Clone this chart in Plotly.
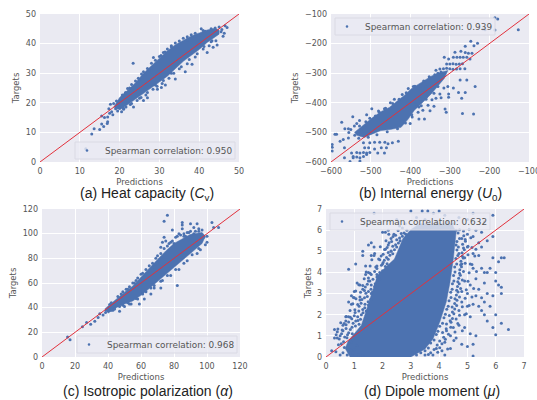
import plotly.graph_objects as go

BLUE = "#4C72B0"
RED = "#E2313C"
TICK = "#555555"

# ---------- (a) Heat capacity
a_band = [(18.5,18.5),(20,21.8),(22,24.2),(24,26.8),(26,30),(28,32.6),(30,35),(32,37.6),(34,39.6),(36,41.2),(38,42.6),(40,43.6),(42,44.6),(44,45.2),(45,44.6),(45,43.2),(44,42.3),(42,40.4),(40,38),(38,36),(36,34),(34,31.5),(32,29),(30,27),(28,25),(26,23),(24,21),(22,19.3),(20,17.6)]
a_points = [(11.5,4.5),(13,9.5),(13.6,11.2),(15,11),(15.5,12.8),(16,12),(16.9,13),(17,13.6),(15.5,15.5),(16.2,15),(17,15.2),(17.5,16.5),(18,17),(18.3,16),(17.3,18),(17.7,19.5),(18.5,19.8),(19,18),(19.5,17.2),(20,20.6),(20.5,17),(21,17.8),(21.5,23.5),(22.5,25),(23.4,33.4),(23.5,18.6),(25,27.9),(26,20.8),(26.5,29.7),(27,21.7),(27.5,30.8),(28,31.7),(28.5,35.3),(29.5,24.6),(30.5,25.2),(31,37),(31.5,26),(33,39.3),(34,28),(36.5,30.5),(37,41.3),(38.2,33),(39,42.5),(40,42.8),(40.5,45),(41.5,44.2),(42,37),(43,45),(43.5,38.8),(44,45.3),(44.2,41),(44.5,39.5),(45,45.6),(45.5,44),(46,42.5),(46.3,43.5),(46.5,46),(47,45.4),(45.7,44.8),(43.2,41),(42.5,39.3),(41,38.2),(39,35.5),(37,33.2),(35,31.5),(33,30),(31,27.5),(29,26),(27,23.5),(25,21.5),(23,19.8),(21,18.2),(22,24.8),(24,27.4),(26,30.5),(28,33.4),(30,35.6),(32,38.2),(34,40.2),(36,41.8),(38,43),(41,44.4),(19.2,20.6),(20.7,22.6),(21.4,23.1),(23,26.2),(24.7,28.3),(25.5,29.7),(27,31.6),(29,34.4),(30.4,36),(31.4,37.2),(33,38.9),(35,40.9),(37,42.3),(39,43.5),(21.6,18.6),(22.7,19.4),(24.4,20.8),(25.4,21.8),(26.6,22.6),(28.4,24.6),(29.4,25.6),(30.7,26.5),(32.4,28.3),(33.6,30),(35.5,32.2),(37.5,34.6),(39.5,36.6),(41.2,39),(43,40.6)]
a_name = "Spearman correlation: 0.950"

# ---------- (b) Internal energy
b_band = [(-541,-500),(-516,-472),(-495,-450),(-474,-430),(-452,-415),(-432,-393),(-415,-375),(-398,-353),(-372,-332),(-347,-310),(-325,-298),(-305,-291),(-314,-318),(-330,-345),(-347,-370),(-368,-398),(-390,-426),(-405,-455),(-423,-483),(-450,-490),(-474,-494),(-495,-505),(-516,-517),(-535,-510)]
b_points = [(-186,-113),(-179,-117),(-127,-153),(-186,-154),(-211,-153),(-216,-151),(-247,-192),(-230,-199),(-239,-207),(-261,-209),(-253,-233),(-244,-233),(-272,-226),(-287,-229),(-261,-230),(-314,-246),(-291,-246),(-282,-246),(-274,-246),(-266,-246),(-257,-246),(-249,-252),(-303,-252),(-308,-269),(-300,-269),(-292,-268),(-284,-270),(-276,-269),(-268,-268),(-325,-286),(-316,-285),(-308,-283),(-300,-285),(-292,-287),(-283,-286),(-274,-285),(-262,-285),(-330,-300),(-322,-296),(-335,-290),(-278,-365),(-261,-365),(-270,-385),(-236,-345),(-274,-323),(-257,-323),(-291,-350),(-303,-381),(-303,-370),(-312,-421),(-309,-432),(-268,-436),(-240,-438),(-364,-455),(-350,-427),(-375,-342),(-360,-345),(-345,-348),(-330,-345),(-315,-350),(-305,-345),(-370,-365),(-355,-370),(-340,-368),(-325,-370),(-375,-387),(-360,-388),(-345,-390),(-335,-385),(-322,-383),(-385,-405),(-372,-410),(-355,-408),(-340,-412),(-380,-432),(-368,-425),(-395,-448),(-400,-470),(-420,-462),(-378,-455),(-450,-400),(-440,-388),(-420,-372),(-405,-352),(-388,-344),(-465,-420),(-480,-428),(-497,-420),(-510,-440),(-528,-460),(-545,-447),(-541,-478),(-525,-490),(-515,-483),(-550,-490),(-535,-470),(-555,-500),(-520,-505),(-505,-500),(-597,-541),(-597,-550),(-597,-563),(-590,-506),(-586,-506),(-573,-466),(-565,-488),(-556,-488),(-569,-524),(-556,-519),(-566,-552),(-577,-530),(-566,-586),(-552,-598),(-548,-570),(-544,-581),(-535,-568),(-527,-570),(-518,-568),(-510,-570),(-502,-568),(-544,-586),(-535,-583),(-527,-586),(-518,-581),(-510,-575),(-527,-597),(-518,-535),(-502,-535),(-490,-533),(-477,-533),(-464,-533),(-456,-538),(-473,-552),(-460,-552),(-490,-556),(-482,-570),(-465,-570),(-445,-535),(-430,-530),(-505,-552),(-515,-552),(-540,-510),(-530,-520),(-528,-478),(-512,-464),(-502,-452),(-488,-445),(-478,-432),(-462,-418),(-444,-402),(-428,-388),(-410,-366),(-392,-345),(-366,-326),(-352,-312),(-338,-305),(-360,-382),(-378,-414),(-396,-440),(-412,-468),(-432,-488),(-458,-498),(-484,-508),(-506,-516)]
b_name = "Spearman correlation: 0.939"

# ---------- (c) Isotropic polarization
c_band = [(38,39),(45,47),(50,52.5),(55,57.5),(60,65),(65,72),(70,79),(75,86),(80,92),(85,96),(90,99.5),(97,101),(99,98),(97,92),(90,84),(85,78),(80,72),(75,66.5),(70,61),(65,55.5),(60,50),(55,45.5),(50,43),(45,40),(40,35.5)]
c_points = [(15.5,16.3),(17,14),(24.5,24.5),(27,28),(29.5,26.5),(32,29),(34,32),(35,35),(37,34),(38.5,36),(39,38),(41,42.5),(43,38),(47,37),(48,51),(50,41),(51,55),(52,45),(54,43),(55,60),(58,64),(59,43),(62,47),(63,67),(66,51),(68,56),(68,73),(70,76),(72,89),(72,56),(73,93),(74,97),(75,94),(76,115),(74,110),(78,93),(79,103),(80,92),(82,58),(82,98),(85,104),(85,109),(85,107),(86,100),(88,101),(90,108),(92,100),(92,90),(92,105),(94,108),(95,104),(97,99),(98,97),(100,93),(100,98),(103,109),(104,105),(107,105),(99,91),(96,87),(94,84),(88,78),(83,71),(78,66),(73,62),(68,58),(63,53),(58,47),(53,43),(77,92),(81,97),(84,99),(83,100),(87,98),(90,102),(95,102),(97,103),(70,82),(65,74),(60,67),(56,60),(52,55),(42,44),(46,49),(49,53),(53,57),(57,62),(61,68),(63,71),(67,76),(69,80),(72,84),(74,88),(76,90),(79,94),(86,98),(89,101),(93,102),(42,38),(44,39),(47,41),(49,42),(52,44),(57,47.5),(61,51),(66,56),(72,61.5),(76,66),(81,71),(86,76),(91,83),(95,88)]
c_name = "Spearman correlation: 0.968"

# ---------- (d) Dipole moment
d_band = [(0.85,0),(0.68,0.4),(0.78,0.75),(1.05,1.2),(1.25,1.5),(1.45,2.3),(1.6,2.9),(1.82,3.85),(2.15,4.3),(2.42,4.63),(2.72,5.6),(2.98,6),(3.3,6.3),(4.45,6.3),(4.6,5.9),(4.5,4.63),(4.38,3.5),(4.25,2.6),(4.02,1.64),(3.78,0.85),(3.5,0.38),(3.0,0)]
d_points = [(0.3,1.3),(0.4,1.2),(0.3,0.9),(0.4,0.9),(0.5,1.0),(0.6,1.5),(0.7,1.7),(0.7,1.9),(0.8,1.9),(0.9,2.5),(0.9,2.9),(0.8,2.6),(1.0,2.8),(1.0,3.1),(1.1,3.5),(1.2,3.4),(1.2,2.7),(0.8,4.15),(1.05,4.4),(1.3,3.2),(1.3,5.0),(1.3,4.8),(1.4,4.3),(1.4,3.9),(1.5,3.6),(1.5,5.3),(1.5,4.0),(1.6,5.4),(1.6,3.0),(1.6,4.8),(1.7,5.2),(1.7,4.8),(1.8,4.3),(1.8,3.9),(1.9,3.7),(1.9,4.6),(2.0,5.9),(2.0,4.4),(2.1,5.9),(2.1,5.1),(2.2,6.0),(2.2,5.3),(2.3,5.6),(2.3,5.0),(2.4,5.8),(2.5,6.5),(2.6,6.2),(2.7,6.1),(2.8,6.3),(1.7,6.8),(3.0,6.9),(3.2,6.6),(3.4,6.9),(3.5,6.5),(3.6,6.9),(3.8,6.8),(3.9,6.4),(4.0,6.9),(4.2,6.7),(4.3,6.4),(4.5,6.3),(4.6,6.0),(4.7,6.6),(5.0,6.5),(5.2,6.8),(5.6,6.4),(5.9,6.7),(5.9,5.7),(5.7,5.5),(5.5,5.9),(5.3,6.0),(5.2,5.7),(5.0,5.8),(4.8,5.6),(4.6,5.3),(4.7,4.9),(4.8,4.4),(4.9,4.7),(5.0,5.2),(5.1,4.4),(5.2,4.9),(5.3,5.1),(5.4,4.8),(5.4,5.4),(5.5,5.2),(5.2,4.2),(5.3,3.7),(5.5,4.2),(5.6,4.0),(5.7,4.0),(5.8,4.2),(5.9,4.7),(6.0,4.0),(6.1,4.5),(6.2,4.7),(6.3,4.7),(6.0,3.6),(6.1,3.4),(6.2,3.3),(6.2,3.0),(5.9,2.9),(5.7,3.0),(5.6,3.5),(5.5,2.8),(5.3,2.9),(5.1,3.4),(5.0,3.0),(4.9,3.6),(4.8,3.1),(4.8,2.6),(5.0,2.4),(5.2,2.5),(5.4,2.4),(5.5,2.2),(5.1,1.9),(4.9,2.0),(4.7,2.2),(4.6,1.8),(4.5,1.4),(4.7,1.5),(4.9,1.4),(5.1,1.1),(5.3,1.0),(5.2,0.6),(5.0,0.5),(4.8,0.6),(4.6,0.9),(4.4,1.0),(4.2,0.7),(4.4,0.4),(4.2,0.1),(3.9,0.4),(3.7,0.2),(3.5,0.1),(5.2,0.05),(5.6,2.0),(5.7,1.7),(6.0,2.0),(6.2,1.6),(6.45,1.3),(6.0,1.05),(5.9,1.4),(5.8,2.4),(5.6,2.6),(5.4,3.2),(0.2,0.3),(0.35,0.25),(0.5,0.1),(0.6,0.2),(0.65,0.45),(0.85,0.35),(0.75,0.1),(0.9,0.7),(1.0,0.9)]
d_left_fringe = [(0.36,1.05),(0.47,0.85),(0.55,1.1),(0.66,0.95),(0.76,1.05),(0.42,1.32),(0.57,1.28),(0.71,1.35),(0.86,1.3),(0.52,1.62),(0.64,1.58),(0.8,1.66),(0.96,1.6),(1.05,1.7),(0.72,1.92),(0.86,1.88),(1.0,1.95),(1.12,1.9),(0.85,2.2),(1.02,2.24),(1.16,2.18),(1.3,2.25),(0.95,2.52),(1.12,2.48),(1.24,2.54),(1.38,2.5),(0.97,2.82),(1.06,2.76),(1.2,2.84),(1.36,2.8),(1.46,2.86),(1.05,3.12),(1.22,3.06),(1.36,3.14),(1.5,3.1),(1.16,3.42),(1.3,3.38),(1.46,3.44),(1.6,3.4),(1.35,3.7),(1.5,3.74),(1.66,3.68),(1.42,4.02),(1.56,3.96),(1.72,4.04),(1.9,4.0),(1.56,4.3),(1.76,4.26),(1.96,4.34),(2.1,4.28),(1.62,4.6),(1.86,4.64),(2.06,4.58),(2.2,4.62),(1.72,4.9),(2.02,4.86),(2.2,4.94),(2.36,4.88),(1.92,5.22),(2.16,5.18),(2.36,5.24),(2.5,5.2),(2.12,5.5),(2.32,5.46),(2.5,5.54),(2.62,5.5),(2.22,5.8),(2.46,5.76),(2.66,5.84),(2.82,5.8),
    (0.62,0.72),(0.54,0.63),(0.44,0.58),(0.74,0.91),(0.6,1.24),(0.8,1.15),(0.93,1.1),(0.71,1.52),(0.92,1.41),(1.04,1.47),(1.17,1.55),(0.91,1.81),(1.13,1.73),(1.22,1.78),(1.03,2.1),(1.25,2.0),(1.31,2.09),(1.17,2.4),(1.37,2.33),(1.42,2.17),(1.27,2.72),(1.49,2.61),(1.5,2.46),(1.41,3.02),(1.58,2.72),(1.39,3.31),(1.59,3.2),(1.64,3.06),(1.55,3.6),(1.74,3.47),(1.72,3.34),(1.6,3.9),(1.8,3.78),(1.82,3.64),(1.8,4.18),(2.0,4.08),(2.02,4.47),(2.16,4.41),(1.95,4.78),(2.14,4.71),(2.26,4.81),(2.07,5.08),(2.3,5.01),(2.42,5.07),(2.23,5.4),(2.46,5.31),(2.56,5.39),(2.37,5.7),(2.6,5.63),(2.7,5.71),(2.55,5.98),(2.76,5.87),(2.86,6.0)]
d_right_fringe = [(3.62,0.42),(3.82,0.36),(4.02,0.44),(4.3,0.38),(3.82,0.8),(4.02,0.76),(4.22,0.84),(4.52,0.78),(3.96,1.22),(4.12,1.16),(4.26,1.24),(4.56,1.18),(4.82,1.24),(4.12,1.6),(4.26,1.56),(4.42,1.64),(4.66,1.58),(4.22,2.02),(4.36,1.96),(4.52,2.04),(4.72,1.98),(4.96,2.04),(4.32,2.4),(4.46,2.36),(4.62,2.44),(4.82,2.38),(5.06,2.44),(4.42,2.82),(4.56,2.76),(4.72,2.84),(4.92,2.78),(5.16,2.84),(4.46,3.2),(4.62,3.16),(4.76,3.24),(4.96,3.18),(5.22,3.24),(4.52,3.6),(4.66,3.56),(4.82,3.64),(5.02,3.58),(4.56,4.02),(4.72,3.96),(4.86,4.04),(5.06,3.98),(5.32,4.04),(4.62,4.4),(4.76,4.36),(4.92,4.44),(5.16,4.38),(4.66,4.8),(4.82,4.76),(5.02,4.84),(5.26,4.78),(4.68,5.2),(4.86,5.16),(5.02,5.24),(5.16,5.18),(4.72,5.6),(4.92,5.56),(5.12,5.64),(4.72,6.02),(4.86,5.96),(5.06,6.04),
    (3.7,0.66),(3.93,0.57),(4.1,0.63),(3.9,1.06),(4.16,0.93),(4.33,1.08),(4.02,1.45),(4.25,1.34),(4.41,1.41),(4.17,1.86),(4.39,1.72),(4.47,1.82),(4.27,2.26),(4.47,2.13),(4.55,2.27),(4.35,2.66),(4.55,2.53),(4.63,2.68),(4.41,3.06),(4.61,2.93),(4.67,3.08),(4.47,3.46),(4.65,3.33),(4.71,3.47),(4.51,3.86),(4.69,3.73),(4.75,3.87),(4.55,4.26),(4.73,4.13),(4.79,4.27),(4.59,4.66),(4.77,4.53),(4.85,4.68),(4.63,5.06),(4.81,4.93),(4.89,5.07),(4.63,5.46),(4.83,5.33),(4.93,5.47),(4.67,5.86),(4.87,5.73)]
d_bottom_fringe = [(1.0,0.35),(1.15,0.1),(0.95,0.2),(1.1,0.55),(1.3,0.05),(3.05,0.2),(3.2,0.1),(3.35,0.2),(3.5,0.3),(3.62,0.12),(3.78,0.1),(3.95,0.22),(4.1,0.3)]
d_name = "Spearman correlation: 0.632"

panels = [
    dict(band=a_band, pts=a_points, name=a_name, lim=(0,50), ticks=[0,10,20,30,40,50], dom=(40,239,14,162), leg=(75,142), ts=4),
    dict(band=b_band, pts=b_points, name=b_name, lim=(-600,-100), ticks=[-600,-500,-400,-300,-200,-100], dom=(331,529,14,162), leg=(335,18), ts=5),
    dict(band=c_band, pts=c_points, name=c_name, lim=(0,120), ticks=[0,20,40,60,80,100,120], dom=(42,240,209,357), leg=(77,336), ts=4),
    dict(band=d_band, pts=d_points+d_left_fringe+d_right_fringe+d_bottom_fringe, name=d_name, lim=(0,7), ticks=[0,1,2,3,4,5,6,7], dom=(326,524,209,357), leg=(330,213), ts=3),
]
captions = [
    ("(a) Heat capacity (<i>C</i><sub>v</sub>)", 147, 194),
    ("(b) Internal energy (<i>U</i><sub>0</sub>)", 430, 194),
    ("(c) Isotropic polarization (<i>α</i>)", 148, 391),
    ("(d) Dipole moment (<i>μ</i>)", 432, 391),
]

W, H = 537, 400
fig = go.Figure()
layout = dict(width=W, height=H, margin=dict(l=0,r=0,t=0,b=0), paper_bgcolor="white", showlegend=False,
              plot_bgcolor="#EAEAF2", font=dict(family="DejaVu Sans", size=8, color=TICK))
annotations, shapes = [], []
for i, p in enumerate(panels):
    s = "" if i == 0 else str(i+1)
    x0,x1,y0,y1 = p["dom"]
    ax = dict(range=list(p["lim"]), tickvals=p["ticks"], gridcolor="white", gridwidth=1, zeroline=False,
              showline=False, ticks="", tickfont=dict(size=8, color=TICK), tickangle=0, automargin=False)
    layout["xaxis"+s] = dict(ax, domain=[x0/W, x1/W], anchor="y"+s, ticklabelstandoff=3,
                             title=dict(text="Predictions", font=dict(size=8.5, color=TICK), standoff=4))
    layout["yaxis"+s] = dict(ax, domain=[1-y1/H, 1-y0/H], anchor="x"+s, ticklabelstandoff=3,
                             title=dict(text="Targets", font=dict(size=8.5, color=TICK), standoff=p["ts"]))
    xa, ya = "x"+s, "y"+s
    bx, by = zip(*p["band"])
    fig.add_trace(go.Scatter(x=bx, y=by, mode="lines", fill="toself", fillcolor=BLUE,
                             line=dict(color=BLUE, width=0.5), xaxis=xa, yaxis=ya, hoverinfo="skip"))
    px, py = zip(*p["pts"])
    fig.add_trace(go.Scatter(x=px, y=py, mode="markers", marker=dict(color=BLUE, size=3), name=p["name"],
                             xaxis=xa, yaxis=ya))
    fig.add_trace(go.Scatter(x=list(p["lim"]), y=list(p["lim"]), mode="lines", line=dict(color=RED, width=1),
                             xaxis=xa, yaxis=ya, hoverinfo="skip"))
    lx, ly = p["leg"]
    shapes.append(dict(type="rect", xref="paper", yref="paper", x0=lx/W, x1=(lx+160)/W, y0=1-(ly+17)/H, y1=1-ly/H,
                       fillcolor="rgba(234,234,242,0.8)", line=dict(color="#DADAE4", width=1), layer="above"))
    shapes.append(dict(type="circle", xref="paper", yref="paper", x0=(lx+10.7)/W, x1=(lx+13.3)/W,
                       y0=1-(ly+9.8)/H, y1=1-(ly+7.2)/H, fillcolor=BLUE, line=dict(width=0), layer="above"))
    annotations.append(dict(text=p["name"], x=(lx+28)/W, y=1-(ly+8.5)/H, xref="paper", yref="paper", xanchor="left",
                            yanchor="middle", showarrow=False, font=dict(size=8.9, color=TICK)))
for text, cx, cy in captions:
    annotations.append(dict(text=text, x=cx/W, y=1-cy/H, xref="paper", yref="paper", xanchor="center", yanchor="middle",
                            showarrow=False, font=dict(family="Liberation Sans", size=14, color="#222222")))
# right-hand x tick of panel (b): the reference cuts it at the page edge
annotations.append(dict(text="−100", x=529/W, y=1-171/H, xref="paper", yref="paper", xanchor="center", yanchor="middle",
                        showarrow=False, font=dict(size=8, color=TICK)))
layout["annotations"] = annotations
layout["shapes"] = shapes
fig.update_layout(**layout)
fig.write_html("out.html", post_script="document.body.style.margin='0';", config=dict(displayModeBar=False))
